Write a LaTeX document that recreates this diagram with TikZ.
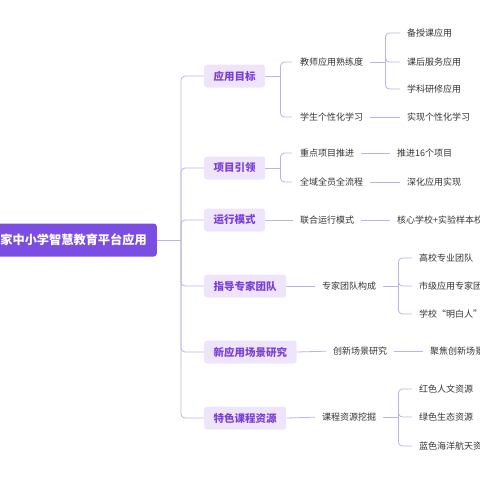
\documentclass[tikz,border=0pt]{standalone}
\usepackage{fontspec}
\setmainfont{Noto Sans CJK SC}
\usepackage{tikz}
\usetikzlibrary{positioning}
\definecolor{rootpurple}{HTML}{7B4DE3}
\definecolor{tagfill}{HTML}{EEE5FC}
\definecolor{tagtext}{HTML}{7A40D6}
\definecolor{wirecol}{HTML}{BAB4DF}
\definecolor{leaftext}{HTML}{333333}

\begin{document}
\begin{tikzpicture}[x=1pt, y=-1pt,
	root/.style={fill=rootpurple, text=white, rounded corners=3pt, font=\fontsize{12.2}{12.2}\selectfont\bfseries, inner xsep=10pt, minimum height=33pt, anchor=east},
	tag/.style={fill=tagfill, text=tagtext, rounded corners=3pt, font=\fontsize{10.5}{10.5}\selectfont\bfseries, inner xsep=9.5pt, minimum height=23pt, anchor=west},
	leaf/.style={text=leaftext, font=\fontsize{9}{9}\selectfont, inner sep=0pt, text height=7.5pt, text depth=1.5pt, anchor=west},
	wire/.style={draw=wirecol, line width=0.8pt, rounded corners=4pt},
	gap/.style={shorten <=7pt, shorten >=7pt}]
	\useasboundingbox (0,0) rectangle (480,480);
	% Root and trunk:
	\node[root](R) at (157, 240){国家中小学智慧教育平台应用};
	\coordinate (T) at (181, 240);
	% First level:
	\node[tag](A1) at (204, 76){应用目标};
	\node[tag](A2) at (204, 168){项目引领};
	\node[tag](A3) at (204, 220){运行模式};
	\node[tag](A4) at (204, 286){指导专家团队};
	\node[tag](A5) at (204, 352){新应用场景研究};
	\node[tag](A6) at (204, 418){特色课程资源};
	\draw[wire] (R.east) -- (T);
	\foreach \n in {A1, A2, A3, A4, A5, A6}
		\draw[wire] (T) |- (\n.west);
	% Second level:
	\node[leaf](B1) at (300, 62){教师应用熟练度};
	\node[leaf](B2) at (300, 117){学生个性化学习};
	\node[leaf](B3) at (300, 153){重点项目推进};
	\node[leaf](B4) at (300, 182){全域全员全流程};
	\node[leaf](B5) at (300, 220){联合运行模式};
	\node[leaf](B6) at (322, 286){专家团队构成};
	\node[leaf](B7) at (333, 351){创新场景研究};
	\node[leaf](B8) at (322, 417){课程资源挖掘};
	\draw[wire] (A1.east) -- ++(15, 0) coordinate (K1);
	\draw[wire, shorten >=8pt] (K1) |- (B1.west);
	\draw[wire, shorten >=8pt] (K1) |- (B2.west);
	\draw[wire] (A2.east) -- ++(15, 0) coordinate (K2);
	\draw[wire, shorten >=8pt] (K2) |- (B3.west);
	\draw[wire, shorten >=8pt] (K2) |- (B4.west);
	\draw[wire, shorten >=7pt] (A3.east) -- (B5.west);
	\draw[wire, shorten >=7pt] (A4.east) -- (B6.west);
	\draw[wire, shorten >=7pt] (A5.east) -- (B7.west);
	\draw[wire, shorten >=7pt] (A6.east) -- (B8.west);
	% Third level:
	\node[leaf](C1) at (407, 33){备授课应用};
	\node[leaf](C2) at (407, 62){课后服务应用};
	\node[leaf](C3) at (407, 89){学科研修应用};
	\node[leaf](C4) at (407, 117){实现个性化学习};
	\node[leaf](C5) at (397, 153){推进16个项目};
	\node[leaf](C6) at (407, 182){深化应用实现};
	\node[leaf](C7) at (397, 220){核心学校+实验样本校};
	\node[leaf](C8) at (419, 258){高校专业团队};
	\node[leaf](C9) at (419, 286){市级应用专家团队};
	\node[leaf](C10) at (419, 314){学校“明白人”};
	\node[leaf](C11) at (430, 351){聚焦创新场景应用};
	\node[leaf](C12) at (419, 389){红色人文资源};
	\node[leaf](C13) at (419, 417){绿色生态资源};
	\node[leaf](C14) at (419, 446){蓝色海洋航天资源};
	\draw[wire, shorten <=7pt] (B1.east) -- ++(22, 0) coordinate (K3);
	\foreach \n in {C1, C2, C3}
		\draw[wire, shorten >=7pt] (K3) |- (\n.west);
	\draw[wire, gap] (B2.east) -- (C4.west);
	\draw[wire, gap] (B3.east) -- (C5.west);
	\draw[wire, gap] (B4.east) -- (C6.west);
	\draw[wire, gap] (B5.east) -- (C7.west);
	\draw[wire, shorten <=7pt] (B6.east) -- ++(22, 0) coordinate (K4);
	\foreach \n in {C8, C9, C10}
		\draw[wire, shorten >=7pt] (K4) |- (\n.west);
	\draw[wire, gap] (B7.east) -- (C11.west);
	\draw[wire, shorten <=7pt] (B8.east) -- ++(22, 0) coordinate (K5);
	\foreach \n in {C12, C13, C14}
		\draw[wire, shorten >=7pt] (K5) |- (\n.west);
\end{tikzpicture}
\end{document}
